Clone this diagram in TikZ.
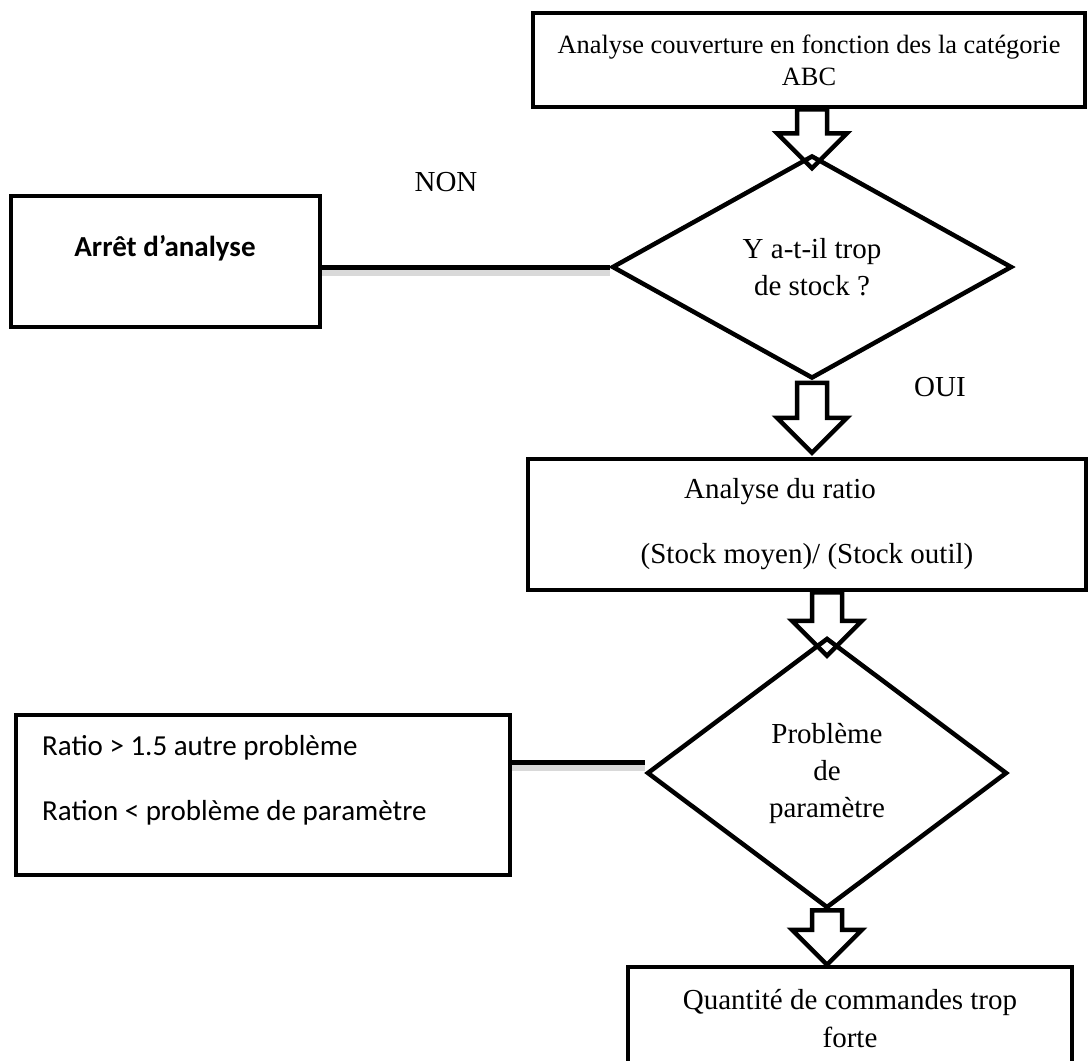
\documentclass[tikz,border=0pt]{standalone}
\usepackage{fontspec}
\setmainfont{Liberation Serif}
\newfontfamily\calibri{Carlito}
\usepackage{tikz}
\usetikzlibrary{positioning, calc, shapes.geometric}
\tikzset{
  boite/.style={draw, line width=4.5pt, align=center, inner sep=0pt,
                font=\fontsize{29}{38}\selectfont},
  losange/.style={diamond, draw, line width=4.5pt, align=center, inner sep=0pt,
                  aspect=1.6, font=\fontsize{29}{37}\selectfont},
  creuse/.style={line width=4.5pt, line join=miter},
  ligne/.style={line width=5pt, preaction={draw=black!15, line width=7pt,
                transform canvas={yshift=-5pt}}},
  texte/.style={inner sep=0pt, font=\fontsize{29}{38}\selectfont},
  textec/.style={inner sep=0pt, font=\calibri\fontsize{29}{36}\selectfont},
}
% hollow block arrow: #1 start, #2 tip
\newcommand{\flechecreuse}[2]{%
  \draw[creuse] ($(#1)+(-15,0)$) -- ($(#2)+(-15,-35)$) -- ($(#2)+(-35,-35)$)
    -- (#2) -- ($(#2)+(35,-35)$) -- ($(#2)+(15,-35)$) -- ($(#1)+(15,0)$)
    -- cycle;}

\begin{document}
\begin{tikzpicture}[x=1pt, y=-1pt]
  \path[fill=white, use as bounding box] (0,0) rectangle (1088,1061);
  \clip (0,0) rectangle (1088,1061);

  % Boxes
  \node[boite, minimum width=552, minimum height=94,
        font=\fontsize{26.4}{32}\selectfont] (haut) at (809,60)
    {Analyse couverture en fonction des la catégorie\\ABC};
  \node[boite, minimum width=558, minimum height=131] (ratio) at (807,524.5)
    {\hspace*{-54pt}Analyse du ratio\\[27pt](Stock moyen)/ (Stock outil)};
  \node[boite, minimum width=444, minimum height=104] (qte) at (850,1019)
    {Quantité de commandes trop\\forte};
  \node[boite, minimum width=309, minimum height=131] (arret) at (165.5,261.5) {};
  \node[boite, minimum width=494, minimum height=160] (regle) at (263,795) {};

  % Decisions
  \node[losange, minimum width=400, minimum height=223] (stock) at (812,267)
    {Y a-t-il trop\\de stock ?};
  \node[losange, minimum width=360, minimum height=270] (param) at (827,773)
    {Problème\\de\\paramètre};

  % Texts
  \node[textec, font=\calibri\bfseries\fontsize{29}{36}\selectfont] (tarret)
    at (165,248) {Arrêt d’analyse};
  \node[textec, anchor=west] (regle1) at (42,748) {Ratio > 1.5 autre problème};
  \node[textec, anchor=west] (regle2) at (42,813) {Ration < problème de paramètre};
  \node[texte] (non) at (446,182) {NON};
  \node[texte] (oui) at (940,387) {OUI};

  % Side lines
  \draw[ligne] (arret.east |- stock.west) -- (stock.west);
  \coordinate (cparam) at ($(param.west)+(0,-11)$);
  \draw[ligne] (regle.east |- cparam) -- (cparam);

  % Block arrows
  \coordinate (d1) at (haut.south -| stock.north);
  \coordinate (p1) at ($(stock.north)+(0,15)$);
  \flechecreuse{d1}{p1}
  \coordinate (d2) at ($(stock.south)+(0,2)$);
  \coordinate (p2) at ($(stock.south |- ratio.north)+(0,-4)$);
  \flechecreuse{d2}{p2}
  \coordinate (d3) at (ratio.south -| param.north);
  \coordinate (p3) at ($(param.north)+(0,20)$);
  \flechecreuse{d3}{p3}
  \coordinate (d4) at (param.south);
  \coordinate (p4) at (param.south |- qte.north);
  \flechecreuse{d4}{p4}
\end{tikzpicture}
\end{document}
